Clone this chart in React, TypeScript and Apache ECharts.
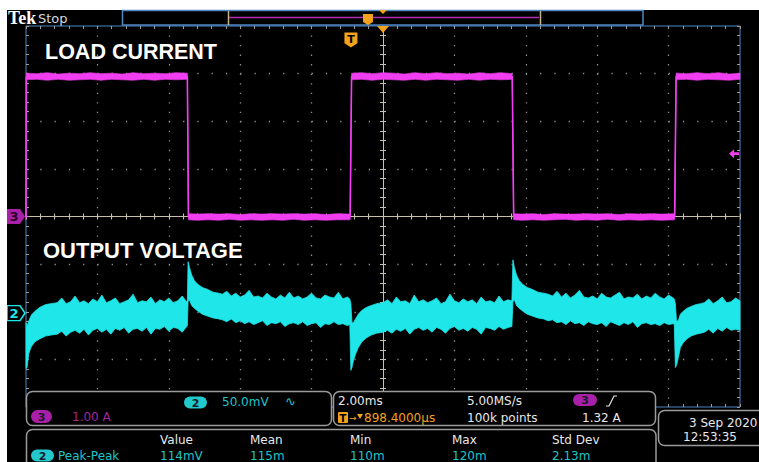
import React, { useEffect, useRef } from 'react';
import * as echarts from 'echarts';

// ---- scope settings ----
const timeMin = -10; // ms (2.00 ms/div, 10 div)
const timeMax = 10;
const timePerDiv = 2;
const ch2MilliVoltsPerDiv = 50;
const ch2Position = -2.03; // div
const ch3AmpsPerDiv = 1.0;
const ch3Position = 0; // div
const triggerTime = -0.898; // ms
const triggerLevel = 1.32; // A

// ---- channel 3 : load current (A), envelope of the noisy trace ----
const currentTime = [
  -10.0, -9.99, -9.7, -9.4, -9.1, -8.8, -8.5, -8.2, -7.9, -7.6, -7.3, -7.0, -6.7, -6.4, -6.1, -5.8, -5.48,
  -5.45, -5.2, -4.9, -4.6, -4.3, -4.0, -3.7, -3.4, -3.1, -2.8, -2.5, -2.2, -1.9, -1.6, -1.3, -0.92,
  -0.88, -0.6, -0.3, 0.0, 0.3, 0.6, 0.9, 1.2, 1.5, 1.8, 2.1, 2.4, 2.7, 3.0, 3.3, 3.62,
  3.66, 3.9, 4.2, 4.5, 4.8, 5.1, 5.4, 5.7, 6.0, 6.3, 6.6, 6.9, 7.2, 7.5, 7.8, 8.17,
  8.21, 8.5, 8.8, 9.1, 9.4, 9.7, 10.0,
];
const currentHigh = [
  0.05, 3.01, 3.0, 3.02, 2.99, 3.01, 3.0, 3.02, 3.0, 3.01, 2.99, 3.02, 3.0, 3.01, 3.0, 3.02, 3.01,
  0.06, 0.05, 0.06, 0.05, 0.06, 0.04, 0.06, 0.05, 0.06, 0.05, 0.06, 0.05, 0.06, 0.04, 0.06, 0.05,
  3.01, 3.02, 3.0, 3.02, 3.01, 2.99, 3.02, 3.0, 3.02, 3.0, 3.01, 2.99, 3.02, 3.0, 3.02, 3.0,
  0.06, 0.05, 0.06, 0.04, 0.06, 0.05, 0.05, 0.06, 0.05, 0.06, 0.04, 0.06, 0.05, 0.06, 0.05, 0.06,
  3.01, 3.0, 3.02, 3.0, 3.02, 2.99, 3.01,
];
const currentLow = [
  -0.07, 2.87, 2.88, 2.86, 2.88, 2.86, 2.87, 2.88, 2.86, 2.88, 2.87, 2.86, 2.88, 2.86, 2.88, 2.87, 2.88,
  -0.07, -0.08, -0.07, -0.08, -0.06, -0.08, -0.07, -0.08, -0.07, -0.08, -0.06, -0.08, -0.07, -0.08, -0.07, -0.07,
  2.87, 2.88, 2.86, 2.88, 2.87, 2.86, 2.88, 2.86, 2.88, 2.87, 2.86, 2.88, 2.86, 2.88, 2.87, 2.88,
  -0.07, -0.08, -0.07, -0.08, -0.07, -0.06, -0.08, -0.07, -0.08, -0.06, -0.08, -0.07, -0.08, -0.07, -0.08, -0.07,
  2.87, 2.88, 2.86, 2.88, 2.87, 2.86, 2.88,
];

// ---- channel 2 : output voltage (mV around its reference), envelope ----
const voltageTime = [
  // after load step up (left edge) + flat
  -10.0, -9.97, -9.92, -9.85, -9.75, -9.62, -9.45, -9.3,
  -9.125, -9.0, -8.875, -8.75, -8.625, -8.5, -8.375, -8.25, -8.125, -8.0, -7.875, -7.75, -7.625, -7.5, -7.375,
  -7.25, -7.125, -7.0, -6.875, -6.75, -6.625, -6.5, -6.375, -6.25, -6.125, -6.0, -5.875, -5.75, -5.625, -5.5, -5.48,
  // overshoot on load release + flat
  -5.46, -5.42, -5.36, -5.28, -5.18, -5.06, -4.92, -4.76, -4.6,
  -4.5, -4.375, -4.25, -4.125, -4.0, -3.875, -3.75, -3.625, -3.5, -3.375, -3.25, -3.125, -3.0, -2.875, -2.75,
  -2.625, -2.5, -2.375, -2.25, -2.125, -2.0, -1.875, -1.75, -1.625, -1.5, -1.375, -1.25, -1.125, -1.0, -0.93,
  // undershoot on load step + flat
  -0.9, -0.87, -0.83, -0.77, -0.69, -0.59, -0.47, -0.33, -0.18,
  0.0, 0.125, 0.25, 0.375, 0.5, 0.625, 0.75, 0.875, 1.0, 1.125, 1.25, 1.375, 1.5, 1.625, 1.75,
  1.875, 2.0, 2.125, 2.25, 2.375, 2.5, 2.625, 2.75, 2.875, 3.0, 3.125, 3.25, 3.375, 3.5, 3.61,
  // overshoot + flat
  3.64, 3.68, 3.74, 3.82, 3.92, 4.04, 4.18, 4.34, 4.5,
  4.625, 4.75, 4.875, 5.0, 5.125, 5.25, 5.375, 5.5, 5.625, 5.75, 5.875, 6.0, 6.125, 6.25, 6.375,
  6.5, 6.625, 6.75, 6.875, 7.0, 7.125, 7.25, 7.375, 7.5, 7.625, 7.75, 7.875, 8.0, 8.125, 8.16,
  // undershoot + flat
  8.19, 8.22, 8.27, 8.33, 8.41, 8.51, 8.63, 8.77, 8.9,
  9.0, 9.125, 9.25, 9.375, 9.5, 9.625, 9.75, 9.875, 10.0,
];
const voltageHigh = [
  -10, -14, -8, -2, 2, 6, 9, 10,
  11, 16, 10, 12, 18, 11, 13, 10, 15, 12, 19, 11, 13, 16, 10,
  12, 14, 20, 11, 13, 12, 17, 10, 14, 12, 16, 11, 13, 18, 12, 13,
  54, 48, 40, 34, 30, 27, 25, 22, 21,
  20, 23, 18, 21, 17, 19, 24, 17, 18, 16, 21, 17, 15, 19, 16,
  22, 16, 18, 15, 17, 21, 16, 15, 19, 17, 16, 22, 15, 17, 15,
  10, -10, -10, -6, -1, 3, 6, 8, 10,
  11, 14, 10, 17, 12, 13, 10, 19, 12, 14, 11, 13, 16, 10, 12,
  20, 13, 11, 15, 12, 14, 10, 17, 12, 13, 11, 18, 12, 14, 13,
  56, 48, 40, 34, 30, 27, 25, 22, 21,
  20, 18, 23, 17, 21, 16, 19, 24, 17, 16, 18, 15, 21, 17, 16,
  19, 22, 15, 17, 16, 20, 15, 18, 16, 21, 17, 15, 19, 16, 15,
  10, -8, -8, -1, 2, 5, 7, 9, 10,
  11, 15, 10, 13, 17, 11, 12, 16, 13,
];
const voltageLow = [
  -58, -57, -42, -35, -30, -27, -24, -23,
  -22, -19, -24, -20, -18, -21, -17, -23, -18, -16, -20, -17, -22, -16, -18,
  -15, -21, -17, -16, -19, -15, -22, -16, -17, -14, -19, -15, -16, -20, -14, -13,
  12, 14, 8, 5, 2, -1, -3, -5, -6,
  -7, -9, -6, -10, -8, -11, -9, -12, -10, -8, -13, -10, -11, -9, -14,
  -11, -10, -12, -9, -13, -11, -10, -15, -11, -12, -9, -12, -11, -13, -12,
  -60, -57, -50, -43, -36, -30, -26, -23, -21,
  -20, -18, -21, -17, -19, -16, -22, -17, -15, -18, -16, -20, -15, -17, -21,
  -16, -14, -18, -16, -19, -15, -17, -22, -15, -16, -18, -14, -17, -15, -14,
  12, 14, 8, 5, 2, -1, -3, -5, -6,
  -8, -7, -10, -9, -12, -8, -11, -10, -13, -9, -11, -12, -10, -14, -9,
  -11, -13, -10, -12, -9, -15, -11, -10, -12, -11, -13, -10, -12, -11, -12,
  -57, -55, -47, -36, -31, -27, -24, -22, -21,
  -20, -17, -21, -16, -19, -15, -18, -17, -18,
];

// ---- readouts ----
const measureHeaders = ['Value', 'Mean', 'Min', 'Max', 'Std Dev'];
const measureValues = ['114mV', '115m', '110m', '120m', '2.13m'];

const CYAN = '#1fe6e8';
const CYAN_TEXT = '#1cc6ca';
const MAGENTA = '#f03ef0';
const MAG_BADGE = '#a81fa8';
const MAG_TEXT = '#a3239f';
const ORANGE = '#f4a21d';
const BLUE = '#4f86c4';
const BOX = '#9a9a9a';
const CROSS = '#c9bfae';
const DOT = '#8e8e8e';
const WHITE = '#e8e8e8';
const FONT = '"DejaVu Sans", sans-serif';

const toDivCurrent = (a: number) => a / ch3AmpsPerDiv + ch3Position;
const toDivVoltage = (mv: number) => mv / ch2MilliVoltsPerDiv + ch2Position;

function bandSeries(rows: number[][], color: string, z: number, stroke: number) {
  return {
    type: 'custom',
    coordinateSystem: 'cartesian2d',
    xAxisIndex: 0,
    yAxisIndex: 0,
    z,
    silent: true,
    encode: { x: 0, y: [1, 2] },
    data: rows,
    renderItem: (params: any, api: any) => {
      if (params.dataIndex !== 0) return null;
      const top = rows.map((r) => api.coord([r[0], r[1]]));
      const bottom = rows.map((r) => api.coord([r[0], r[2]])).reverse();
      return {
        type: 'polygon',
        shape: { points: top.concat(bottom) },
        style: { fill: color, stroke: color, lineWidth: stroke },
      };
    },
  };
}

function txt(text: string, x: number, y: number, fill: string, size = 12, extra: any = {}) {
  return {
    type: 'text',
    x,
    y,
    z: 101,
    silent: true,
    style: {
      text,
      fill,
      font: `${extra.weight || 'normal'} ${size}px ${extra.family || FONT}`,
      textAlign: extra.align || 'left',
      textVerticalAlign: 'middle',
    },
  };
}

function badge(label: string, cx: number, cy: number, w: number, h: number, fill: string) {
  return [
    { type: 'rect', z: 101, silent: true, shape: { x: cx - w / 2, y: cy - h / 2, width: w, height: h, r: h / 2 }, style: { fill } },
    txt(label, cx, cy + 0.5, '#1a1a2a', 11, { weight: 'bold', align: 'center' }),
  ];
}

function buildOption() {
  const voltageRows = voltageTime.map((t, i) => [t, toDivVoltage(voltageHigh[i]), toDivVoltage(voltageLow[i])]);
  const currentRows = currentTime.map((t, i) => [t, toDivCurrent(currentHigh[i]), toDivCurrent(currentLow[i])]);
  const currentMid = currentTime.map((t, i) => [t, toDivCurrent((currentHigh[i] + currentLow[i]) / 2)]);

  const borderTick = { show: true, inside: true, length: 3, lineStyle: { color: '#9c9c9c', width: 1 } };
  const borderMinor = { show: true, splitNumber: 5, length: 3, lineStyle: { color: '#9c9c9c', width: 1 } };
  const crossTick = (inside: boolean) => ({ show: true, inside, length: 3, lineStyle: { color: CROSS, width: 1 } });
  const crossMinor = { show: true, splitNumber: 5, length: 3, lineStyle: { color: CROSS, width: 1 } };

  const xBase = { type: 'value', min: timeMin, max: timeMax, interval: timePerDiv, axisLabel: { show: false }, splitLine: { show: false } };
  const yBase = { type: 'value', min: -4, max: 4, interval: 1, axisLabel: { show: false }, splitLine: { show: false } };

  const pent = 'path://M0,0L13,0L18,7.5L13,15L0,15Z';
  const shield = 'path://M0,0L12,0L12,10L6,14L0,10Z';

  const graphics: any[] = [
    // white page margins
    { type: 'rect', z: 100, silent: true, shape: { x: 0, y: 0, width: 759, height: 10 }, style: { fill: '#fff' } },
    { type: 'rect', z: 100, silent: true, shape: { x: 0, y: 0, width: 7, height: 462 }, style: { fill: '#fff' } },
    // status bar
    txt('Tek', 8, 18, '#ffffff', 18, { weight: 'bold', family: '"Liberation Serif", serif' }),
    txt('Stop', 38, 18, '#d8d8d8', 13),
    { type: 'rect', z: 100, silent: true, shape: { x: 122.5, y: 10.5, width: 520.5, height: 14.5 }, style: { fill: 'none', stroke: BLUE, lineWidth: 1.5 } },
    { type: 'line', z: 101, silent: true, shape: { x1: 229, y1: 17.5, x2: 539, y2: 17.5 }, style: { stroke: '#b02cb0', lineWidth: 1.5 } },
    { type: 'line', z: 101, silent: true, shape: { x1: 228.5, y1: 11, x2: 228.5, y2: 25 }, style: { stroke: '#c8b48a', lineWidth: 1.5 } },
    { type: 'line', z: 101, silent: true, shape: { x1: 540.5, y1: 11, x2: 540.5, y2: 25 }, style: { stroke: '#c8b48a', lineWidth: 1.5 } },
    { type: 'polygon', z: 102, silent: true, shape: { points: [[363, 14], [373, 14], [373, 22], [368, 25], [363, 22]] }, style: { fill: ORANGE } },
    txt('T', 368, 19, '#000', 9, { weight: 'bold', align: 'center' }),
    { type: 'polygon', z: 102, silent: true, shape: { points: [[379, 10], [387, 10], [383, 14]] }, style: { fill: ORANGE } },
    // big labels
    txt('LOAD CURRENT', 45, 52, '#ffffff', 21.5, { weight: 'bold', family: '"Liberation Sans", Arial, sans-serif' }),
    txt('OUTPUT VOLTAGE', 43, 250, '#ffffff', 22, { weight: 'bold', family: '"Liberation Sans", Arial, sans-serif' }),
    // readout boxes
    { type: 'rect', z: 100, silent: true, shape: { x: 26.5, y: 391.5, width: 305, height: 34, r: 6 }, style: { fill: '#000', stroke: BOX, lineWidth: 1.5 } },
    { type: 'rect', z: 100, silent: true, shape: { x: 333.5, y: 391.5, width: 322, height: 34, r: 6 }, style: { fill: '#000', stroke: BOX, lineWidth: 1.5 } },
    { type: 'rect', z: 100, silent: true, shape: { x: 26.5, y: 429.5, width: 629.5, height: 50, r: 6 }, style: { fill: '#000', stroke: BOX, lineWidth: 1.5 } },
    { type: 'rect', z: 100, silent: true, shape: { x: 658.5, y: 410.5, width: 120, height: 35, r: 6 }, style: { fill: '#000', stroke: BOX, lineWidth: 1.5 } },
    // box 1
    ...badge('2', 195.5, 402.5, 23, 12, '#22c8cc'),
    txt('50.0mV', 222, 402, CYAN_TEXT, 12),
    txt('∿', 285, 401, CYAN_TEXT, 13),
    ...badge('3', 41.5, 416.5, 21, 13, MAG_BADGE),
    txt('1.00 A', 72, 416.5, MAG_TEXT, 12),
    // box 2
    txt('2.00ms', 338, 401, WHITE, 12),
    { type: 'rect', z: 101, silent: true, shape: { x: 338, y: 412, width: 10, height: 11, r: 1 }, style: { fill: ORANGE } },
    txt('T', 343, 418, '#000', 10, { weight: 'bold', align: 'center' }),
    txt('→', 349, 417.5, ORANGE, 9),
    { type: 'polygon', z: 101, silent: true, shape: { points: [[357, 414], [363, 414], [360, 419]] }, style: { fill: ORANGE } },
    txt('898.4000μs', 364, 418, ORANGE, 12),
    txt('5.00MS/s', 467, 401, WHITE, 12),
    txt('100k points', 467, 418, WHITE, 12),
    ...badge('3', 585, 400, 24, 12, MAG_BADGE),
    { type: 'polyline', z: 101, silent: true, shape: { points: [[606, 406], [609, 406], [614, 396], [617, 396]] }, style: { stroke: WHITE, lineWidth: 1.2, fill: 'none' } },
    txt('1.32 A', 582, 418, WHITE, 12),
    // date box
    txt('3 Sep 2020', 689, 423, WHITE, 12),
    txt('12:53:35', 683, 437, WHITE, 12),
    // measurement box
    ...badge('2', 42.5, 455.5, 23, 12, '#22c8cc'),
    txt('Peak-Peak', 58, 455.5, CYAN_TEXT, 12),
  ];
  const colX = [160, 250, 350, 452, 552];
  measureHeaders.forEach((h, i) => graphics.push(txt(h, colX[i], 440, WHITE, 12)));
  measureValues.forEach((v, i) => graphics.push(txt(v, colX[i], 455.5, CYAN_TEXT, 12)));

  return {
    animation: false,
    backgroundColor: '#000',
    grid: { left: 26, top: 26, width: 714, height: 381, show: true, borderColor: BLUE, borderWidth: 1, backgroundColor: 'transparent' },
    xAxis: [
      {
        ...xBase, position: 'top',
        axisLine: { show: false, onZero: false },
        axisTick: borderTick, minorTick: borderMinor,
        splitLine: { show: true, showMinLine: false, showMaxLine: false, lineStyle: { color: DOT, width: 1.3, type: [1.3, 8.225] } },
      },
      { ...xBase, position: 'bottom', axisLine: { show: false, onZero: false }, axisTick: borderTick, minorTick: borderMinor },
      { ...xBase, position: 'bottom', axisLine: { show: true, onZero: true, onZeroAxisIndex: 0, lineStyle: { color: CROSS, width: 1 } }, axisTick: crossTick(true), minorTick: crossMinor },
      { ...xBase, position: 'bottom', axisLine: { show: true, onZero: true, onZeroAxisIndex: 0, lineStyle: { color: CROSS, width: 1 } }, axisTick: crossTick(false), minorTick: crossMinor },
    ],
    yAxis: [
      {
        ...yBase, position: 'left',
        axisLine: { show: false, onZero: false },
        axisTick: borderTick, minorTick: borderMinor,
        splitLine: { show: true, showMinLine: false, showMaxLine: false, lineStyle: { color: DOT, width: 1.3, type: [1.3, 12.98] } },
      },
      { ...yBase, position: 'right', axisLine: { show: false, onZero: false }, axisTick: borderTick, minorTick: borderMinor },
      { ...yBase, position: 'left', axisLine: { show: true, onZero: true, onZeroAxisIndex: 0, lineStyle: { color: CROSS, width: 1 } }, axisTick: crossTick(true), minorTick: crossMinor },
      { ...yBase, position: 'left', axisLine: { show: true, onZero: true, onZeroAxisIndex: 0, lineStyle: { color: CROSS, width: 1 } }, axisTick: crossTick(false), minorTick: crossMinor },
    ],
    graphic: { elements: graphics },
    series: [
      bandSeries(voltageRows, CYAN, 3, 0.8),
      bandSeries(currentRows, MAGENTA, 4, 0.6),
      {
        type: 'line',
        xAxisIndex: 0,
        yAxisIndex: 0,
        z: 5,
        silent: true,
        data: currentMid,
        showSymbol: false,
        symbol: 'none',
        lineStyle: { color: MAGENTA, width: 1.6 },
        markPoint: {
          silent: true,
          animation: false,
          data: [
            {
              coord: [timeMin, ch3Position], symbol: pent, symbolSize: [18, 15], symbolOffset: [-10, 0],
              itemStyle: { color: MAG_BADGE },
              label: { show: true, formatter: '3', color: '#2a002a', fontWeight: 'bold', fontSize: 13, fontFamily: 'DejaVu Sans', offset: [-2, 0] },
            },
            {
              coord: [timeMin, ch2Position], symbol: pent, symbolSize: [18, 15], symbolOffset: [-10, 0],
              itemStyle: { color: '#000', borderColor: CYAN, borderWidth: 1.5 },
              label: { show: true, formatter: '2', color: CYAN, fontWeight: 'bold', fontSize: 13, fontFamily: 'DejaVu Sans', offset: [-2, 0] },
            },
            {
              coord: [timeMax, toDivCurrent(triggerLevel)], symbol: 'path://M0,5L6,0L6,3.5L12,3.5L12,6.5L6,6.5L6,10Z',
              symbolSize: [10, 9], symbolOffset: [-6, 0], itemStyle: { color: MAGENTA }, label: { show: false },
            },
            {
              coord: [triggerTime, 4], symbol: shield, symbolSize: [13, 15], symbolOffset: [0, 14],
              itemStyle: { color: ORANGE },
              label: { show: true, formatter: 'T', color: '#000', fontWeight: 'bold', fontSize: 11, fontFamily: 'DejaVu Sans', offset: [0, -1] },
            },
            {
              coord: [0, 4], symbol: 'path://M0,0L12,0L6,7Z', symbolSize: [12, 7], symbolOffset: [0, 3.5],
              itemStyle: { color: ORANGE }, label: { show: false },
            },
          ],
        },
      },
    ],
  };
}

export default function App() {
  const ref = useRef<HTMLDivElement>(null);
  useEffect(() => {
    if (!ref.current) return;
    const chart = echarts.init(ref.current, null, { renderer: 'svg' });
    chart.setOption(buildOption() as any);
    return () => chart.dispose();
  }, []);
  return (
    <div
      ref={ref}
      style={{ position: 'absolute', left: 0, top: 0, width: 759, height: 462, background: '#000' }}
    />
  );
}
